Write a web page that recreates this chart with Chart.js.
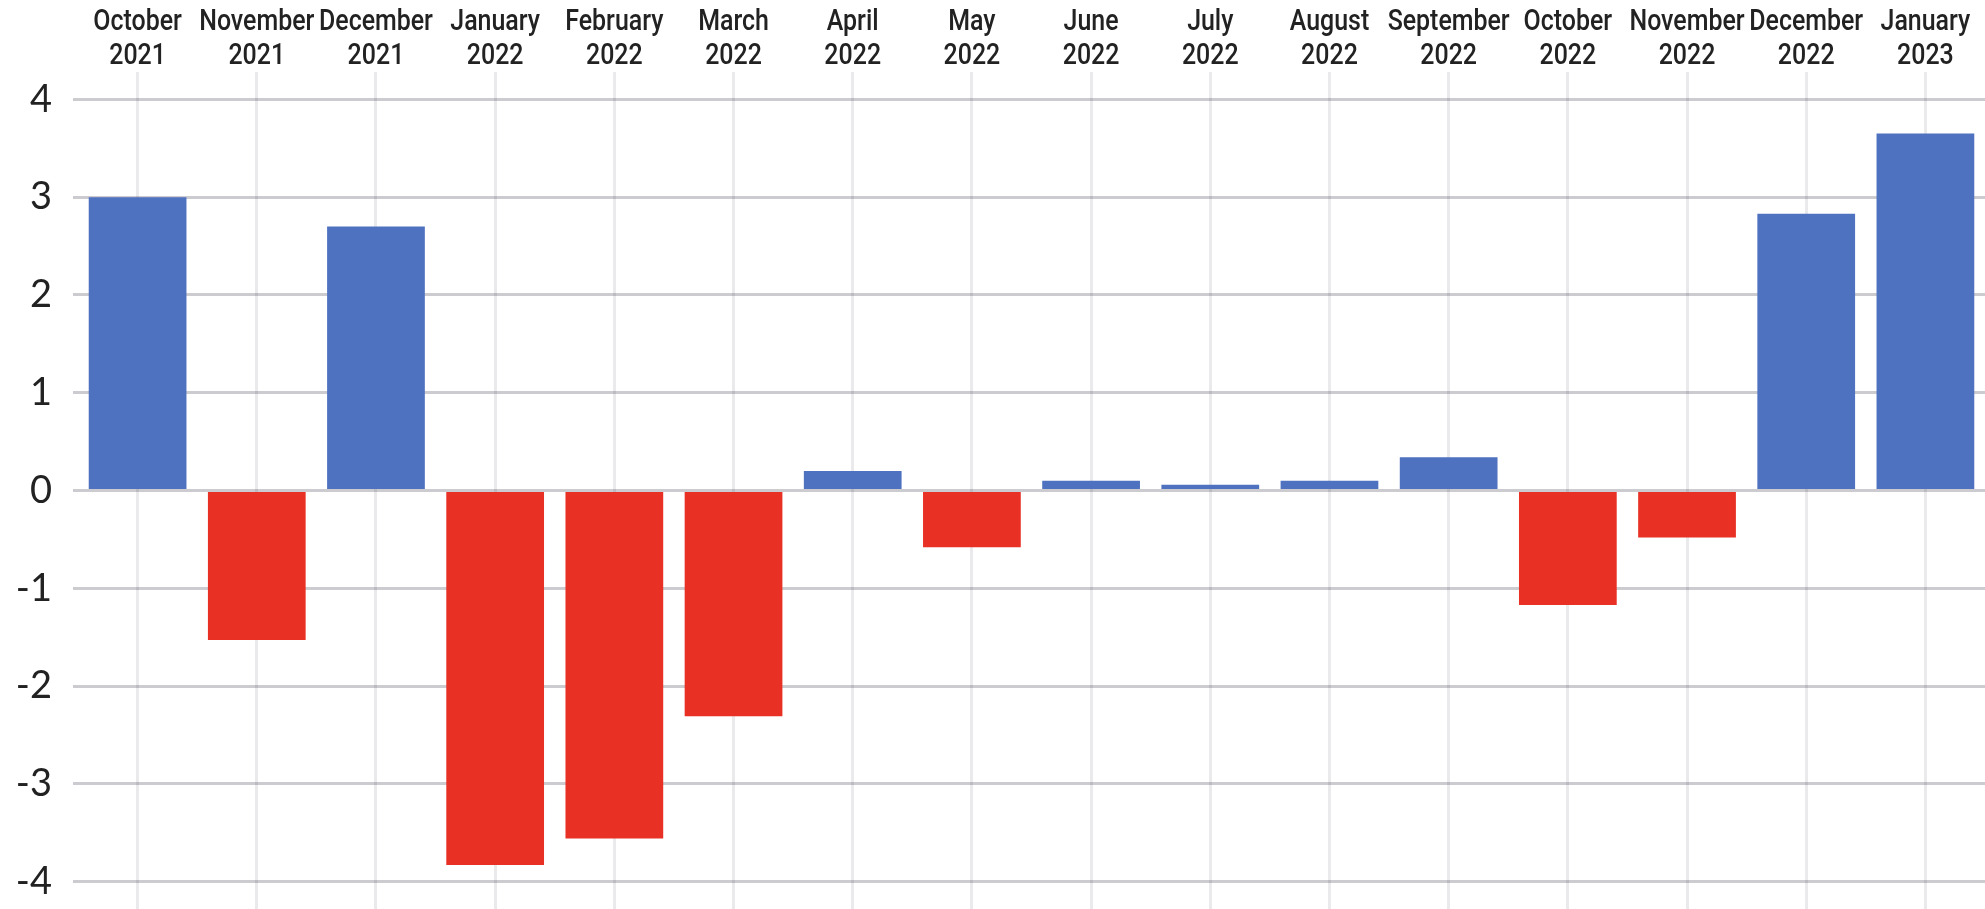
<!DOCTYPE html>
<html>
<head>
<meta charset="utf-8">
<script src="https://cdn.jsdelivr.net/npm/chart.js@4"></script>
<style>
  html, body { margin: 0; padding: 0; background: #fff; overflow: hidden; }
  #graph { display: block; }
</style>
</head>
<body>
<canvas id="graph" width="1985" height="909"></canvas>
<script>
const months = ['October', 'November', 'December', 'January', 'February', 'March', 'April', 'May',
  'June', 'July', 'August', 'September', 'October', 'November', 'December', 'January'];
const years = ['2021', '2021', '2021', '2022', '2022', '2022', '2022', '2022',
  '2022', '2022', '2022', '2022', '2022', '2022', '2022', '2023'];
const changes = [3.0, -1.53, 2.70, -3.83, -3.56, -2.31, 0.20, -0.58,
  0.10, 0.06, 0.10, 0.34, -1.17, -0.48, 2.83, 3.65];

const ctx = document.getElementById('graph');

const labelsList = months.map((m, i) => m + ' ' + years[i]);
const barColors = changes.map(v => v >= 0 ? 'rgb(78,113,192)' : 'rgb(232,48,36)');

// month / year labels above the plot, squeezed horizontally like a condensed face
const topLabels = {
  id: 'topLabels',
  afterDraw(chart) {
    const xScale = chart.scales.x;
    const c = chart.ctx;
    c.save();
    c.fillStyle = '#222';
    c.font = '500 29px Roboto, sans-serif';
    c.textAlign = 'center';
    c.textBaseline = 'alphabetic';
    months.forEach((m, i) => {
      const x = xScale.getPixelForValue(i);
      c.save();
      c.translate(x, 0);
      c.scale(0.86, 1);
      c.fillText(m, 0, 30);
      c.fillText(years[i], 0, 64);
      c.restore();
    });
    c.restore();
  }
};

const chart = new Chart(ctx, {
  type: 'bar',
  data: {
    labels: labelsList,
    datasets: [{
      data: changes,
      backgroundColor: barColors,
      borderWidth: 0,
      barPercentage: 0.82,
      categoryPercentage: 1
    }]
  },
  options: {
    responsive: false,
    animation: false,
    layout: {
      padding: { left: 15, top: 72, right: 0, bottom: 0 }
    },
    plugins: {
      legend: { display: false },
      tooltip: { enabled: false }
    },
    scales: {
      x: {
        position: 'top',
        z: 1, // grid over the bars
        border: { display: false },
        grid: {
          offset: false,
          drawTicks: false,
          color: 'rgba(20,20,60,0.09)',
          lineWidth: 3
        },
        ticks: { display: false }
      },
      y: {
        min: -4.28,
        max: 4.28,
        z: 1,
        afterFit(scale) {
          // fixed axis width, and let the plot run to the bottom edge
          scale.width = 63;
          scale.paddingTop = 0;
          scale.paddingBottom = 0;
        },
        border: { display: false },
        grid: {
          color: 'rgba(20,20,40,0.22)',
          lineWidth: 3,
          tickLength: 5
        },
        ticks: {
          stepSize: 1,
          includeBounds: false,
          padding: 21,
          color: '#222',
          font: { family: 'Lato, sans-serif', size: 38 }
        }
      }
    }
  },
  plugins: [topLabels]
});
</script>
</body>
</html>
